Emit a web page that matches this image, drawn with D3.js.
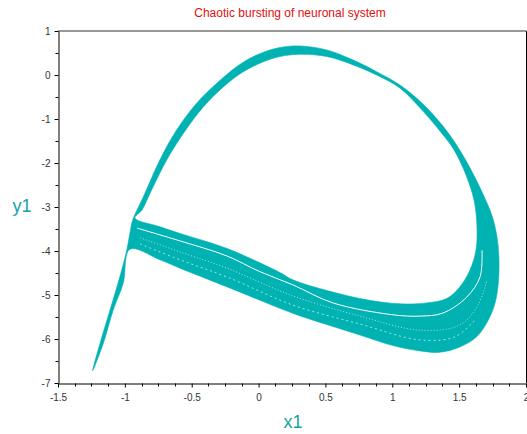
<!DOCTYPE html>
<html>
<head>
<meta charset="utf-8">
<script src="https://cdn.jsdelivr.net/npm/d3@7"></script>
<style>
  html, body { margin: 0; padding: 0; background: #fff; }
  svg { display: block; }
</style>
</head>
<body>
<svg id="chart" width="527" height="434"></svg>
<script>
// ---- data ----
const titleText = "Chaotic bursting of neuronal system";
const xLabel = "x1";
const yLabel = "y1";
const xTicks = [-1.5, -1, -0.5, 0, 0.5, 1, 1.5, 2];
const yTicks = [1, 0, -1, -2, -3, -4, -5, -6, -7];

// outer envelope of the trajectory band (spike + big loop + lower branch)
const outerX = [-1.241, -1.186, -1.111, -1.037, -0.986, -0.962, -0.942, -0.862, -0.738, -0.613, -0.463, -0.313, -0.164, -0.014, 0.160, 0.310, 0.509, 0.708, 0.883, 1.058, 1.229, 1.379, 1.491, 1.581, 1.671, 1.746, 1.783, 1.798, 1.793, 1.768, 1.718, 1.631, 1.506, 1.357, 1.207, 1.005, 0.758, 0.509, 0.260, -0.239, -0.588, -0.737, -0.962, -1.012, -1.087, -1.161];
const outerY = [-6.72, -6.10, -5.34, -4.58, -3.98, -3.59, -3.30, -2.77, -1.93, -1.25, -0.64, -0.19, 0.19, 0.455, 0.625, 0.66, 0.57, 0.34, 0.075, -0.23, -0.66, -1.16, -1.64, -2.11, -2.66, -3.20, -3.68, -4.20, -4.73, -5.19, -5.57, -5.95, -6.18, -6.30, -6.27, -6.15, -5.91, -5.67, -5.42, -4.81, -4.39, -4.20, -3.96, -4.73, -5.34, -6.10];

// inner hole of the loop
const innerX = [-0.924, -0.737, -0.588, -0.239, 0.160, 0.260, 0.758, 1.058, 1.257, 1.407, 1.506, 1.581, 1.626, 1.633, 1.611, 1.551, 1.461, 1.379, 1.229, 1.058, 0.883, 0.708, 0.509, 0.310, 0.160, 0.035, -0.114, -0.264, -0.414, -0.563, -0.687, -0.812, -0.872];
const innerY = [-3.25, -3.45, -3.60, -3.94, -4.49, -4.66, -5.08, -5.20, -5.18, -5.08, -4.81, -4.43, -3.98, -3.43, -2.84, -2.27, -1.70, -1.36, -0.82, -0.30, 0.00, 0.23, 0.42, 0.47, 0.42, 0.30, 0.075, -0.27, -0.73, -1.33, -1.93, -2.69, -3.07];

// visible gaps between orbits in the lower branch
const gap1X = [-0.909, -0.588, -0.239, 0.010, 0.257, 0.556, 1.005, 1.207, 1.379, 1.556, 1.656, 1.671];
const gap1Y = [-3.48, -3.77, -4.11, -4.47, -4.77, -5.18, -5.45, -5.48, -5.41, -5.05, -4.59, -3.98];
const gap2X = [-0.886, -0.588, -0.236, 0.257, 0.758, 1.207, 1.506, 1.641, 1.708];
const gap2Y = [-3.70, -4.02, -4.39, -5.02, -5.48, -5.80, -5.68, -5.23, -4.66];
const gap3X = [-0.886, -0.588, -0.236, 0.257, 0.758, 1.207, 1.469, 1.618];
const gap3Y = [-3.84, -4.20, -4.59, -5.23, -5.66, -6.02, -5.95, -5.57];

// ---- drawing ----
(function () {
const svg = d3.select("#chart");
const pL = 58, pR = 526, pT = 31, pB = 383;
const x = d3.scaleLinear().domain([-1.5, 2]).range([pL, pR]);
const y = d3.scaleLinear().domain([-7, 1]).range([pB, pT]);

const teal = "#00b2b2";
const zip = (xs, ys) => xs.map((v, i) => [v, ys[i]]);

const closed = d3.line().x(d => x(d[0])).y(d => y(d[1])).curve(d3.curveCatmullRomClosed.alpha(0.5));
const open = d3.line().x(d => x(d[0])).y(d => y(d[1])).curve(d3.curveCatmullRom.alpha(0.5));

svg.append("path")
  .attr("d", closed(zip(outerX, outerY)) + closed(zip(innerX, innerY)))
  .attr("fill", teal)
  .attr("fill-rule", "evenodd")
  .attr("stroke", teal)
  .attr("stroke-width", 0.6);

svg.append("path").attr("d", open(zip(gap2X, gap2Y)))
  .attr("fill", "none").attr("stroke", "#a8e4e4").attr("stroke-width", 1)
  .attr("stroke-dasharray", "1,2");
svg.append("path").attr("d", open(zip(gap3X, gap3Y)))
  .attr("fill", "none").attr("stroke", "#a8e4e4").attr("stroke-width", 1)
  .attr("stroke-dasharray", "2,3");
svg.append("path").attr("d", open(zip(gap1X, gap1Y)))
  .attr("fill", "none").attr("stroke", "#ffffff").attr("stroke-width", 1);

// frame
svg.append("line").attr("x1", pL).attr("x2", pR + 0.5).attr("y1", pT).attr("y2", pT)
  .attr("stroke", "#333").attr("stroke-width", 1);
svg.append("line").attr("x1", pR + 0.5).attr("x2", pR + 0.5).attr("y1", pT).attr("y2", pB)
  .attr("stroke", "#000").attr("stroke-width", 1);

// x axis
const xMinor = d3.range(-1.5, 2.0001, 0.125).filter(v => Math.abs(v * 2 - Math.round(v * 2)) > 1e-6);
const xAxis = svg.append("g").attr("transform", `translate(0,${pB + 0.5})`)
  .call(d3.axisBottom(x).tickValues(xTicks).tickSize(4).tickPadding(6)
    .tickFormat(d => String(d)).tickSizeOuter(0));
xAxis.select(".domain").attr("stroke", "#000");
xAxis.selectAll(".tick line").attr("stroke", "#000");
xAxis.selectAll("text").attr("font-family", "Liberation Sans, Arial, sans-serif")
  .attr("font-size", 10).attr("fill", "#333");
xAxis.selectAll(".minor").data(xMinor).enter().append("line").attr("class", "minor")
  .attr("x1", d => Math.round(x(d)) + 0.5).attr("x2", d => Math.round(x(d)) + 0.5)
  .attr("y1", 0).attr("y2", 3).attr("stroke", "#000");

// y axis
const yMinor = d3.range(-6.5, 1, 1);
const yAxis = svg.append("g").attr("transform", `translate(${pL + 0.5},0)`)
  .call(d3.axisLeft(y).tickValues(yTicks).tickSize(4).tickPadding(4)
    .tickFormat(d => String(d)).tickSizeOuter(0));
yAxis.select(".domain").attr("stroke", "#000");
yAxis.selectAll(".tick line").attr("stroke", "#000");
yAxis.selectAll("text").attr("font-family", "Liberation Sans, Arial, sans-serif")
  .attr("font-size", 10).attr("fill", "#333");
yAxis.selectAll(".minor").data(yMinor).enter().append("line").attr("class", "minor")
  .attr("y1", d => Math.round(y(d)) + 0.5).attr("y2", d => Math.round(y(d)) + 0.5)
  .attr("x1", 0).attr("x2", -3).attr("stroke", "#000");

// title and labels
svg.append("text").attr("x", 290).attr("y", 17).attr("text-anchor", "middle")
  .attr("font-family", "Liberation Sans, Arial, sans-serif").attr("font-size", 12)
  .attr("fill", "#e01010").text(titleText);
svg.append("text").attr("x", 293).attr("y", 428).attr("text-anchor", "middle")
  .attr("font-family", "Liberation Sans, Arial, sans-serif").attr("font-size", 18)
  .attr("fill", "#16a3a3").text(xLabel);
svg.append("text").attr("x", 22).attr("y", 212).attr("text-anchor", "middle")
  .attr("font-family", "Liberation Sans, Arial, sans-serif").attr("font-size", 18)
  .attr("fill", "#16a3a3").text(yLabel);
})();
</script>
</body>
</html>
